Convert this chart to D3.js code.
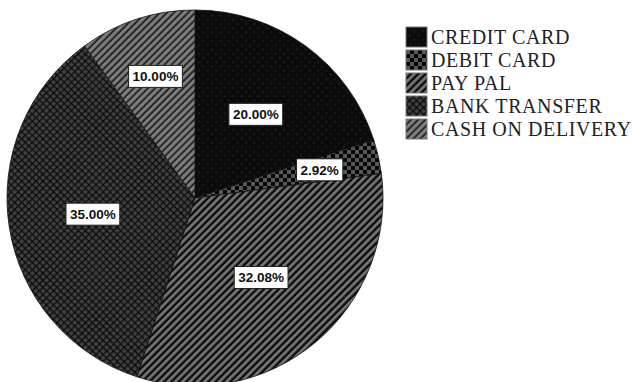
<!DOCTYPE html>
<html>
<head>
<meta charset="utf-8">
<script src="https://cdn.jsdelivr.net/npm/d3@7/dist/d3.min.js"></script>
<style>
  html, body { margin: 0; padding: 0; background: #fff; }
  svg { display: block; }
</style>
</head>
<body>
<svg id="chart" width="632" height="382"></svg>
<script>
// Payment method shares (percent)
const categories = ["CREDIT CARD", "DEBIT CARD", "PAY PAL", "BANK TRANSFER", "CASH ON DELIVERY"];
const shares = [20.00, 2.92, 32.08, 35.00, 10.00];
const patternIds = ["pCredit", "pDebit", "pPaypal", "pBank", "pCash"];

const svg = d3.select("#chart");
const cx = 195, cy = 198, R = 188;

// ---- fill patterns ----
const defs = svg.append("defs");

// credit card: near-black with a faint dotted lattice
{
  const p = defs.append("pattern").attr("id", "pCredit").attr("patternUnits", "userSpaceOnUse")
    .attr("width", 6).attr("height", 6).attr("patternTransform", "rotate(45)");
  p.append("rect").attr("width", 6).attr("height", 6).attr("fill", "#0b0b0b");
  p.append("rect").attr("x", 2).attr("y", 2).attr("width", 2).attr("height", 2).attr("fill", "#1c1c1c");
}
// debit card: checkerboard
{
  const p = defs.append("pattern").attr("id", "pDebit").attr("patternUnits", "userSpaceOnUse")
    .attr("width", 8).attr("height", 8);
  p.append("rect").attr("width", 8).attr("height", 8).attr("fill", "#050505");
  p.append("rect").attr("x", 0).attr("y", 0).attr("width", 4).attr("height", 4).attr("fill", "#585858");
  p.append("rect").attr("x", 4).attr("y", 4).attr("width", 4).attr("height", 4).attr("fill", "#585858");
}
// pay pal: bold diagonal stripes
{
  const p = defs.append("pattern").attr("id", "pPaypal").attr("patternUnits", "userSpaceOnUse")
    .attr("width", 5.2).attr("height", 10).attr("patternTransform", "rotate(45)");
  p.append("rect").attr("width", 5.2).attr("height", 10).attr("fill", "#0a0a0a");
  p.append("rect").attr("x", 0).attr("width", 2.9).attr("height", 10).attr("fill", "#727272");
}
// bank transfer: dark crosshatch
{
  const p = defs.append("pattern").attr("id", "pBank").attr("patternUnits", "userSpaceOnUse")
    .attr("width", 5).attr("height", 5).attr("patternTransform", "rotate(45)");
  p.append("rect").attr("width", 5).attr("height", 5).attr("fill", "#414141");
  p.append("rect").attr("width", 5).attr("height", 1.3).attr("fill", "#0c0c0c");
  p.append("rect").attr("width", 1.3).attr("height", 5).attr("fill", "#0c0c0c");
}
// cash on delivery: lighter diagonal stripes
{
  const p = defs.append("pattern").attr("id", "pCash").attr("patternUnits", "userSpaceOnUse")
    .attr("width", 5).attr("height", 10).attr("patternTransform", "rotate(45)");
  p.append("rect").attr("width", 5).attr("height", 10).attr("fill", "#1a1a1a");
  p.append("rect").attr("x", 0).attr("width", 3.3).attr("height", 10).attr("fill", "#7c7c7c");
}

// ---- pie ----
const pie = d3.pie().sort(null).value(d => d.v);
const data = categories.map((c, i) => ({ c, v: shares[i], id: patternIds[i] }));
const arcs = pie(data);
const arc = d3.arc().innerRadius(0).outerRadius(R);

const g = svg.append("g").attr("transform", `translate(${cx},${cy})`);
g.selectAll("path.slice").data(arcs).join("path")
  .attr("class", "slice")
  .attr("d", arc)
  .attr("fill", d => `url(#${d.data.id})`)
  .attr("stroke", "#111")
  .attr("stroke-width", 0.8);

// ---- value labels (small slices pushed further out) ----
const fmt = d3.format(".2f");
arcs.forEach(d => {
  const frac = d.data.v <= 10 ? 0.68 : 0.55;
  const la = d3.arc().innerRadius(R * frac).outerRadius(R * frac);
  const [x, y] = la.centroid(d);
  const lg = g.append("g").attr("transform", `translate(${x},${y})`);
  const t = lg.append("text")
    .attr("text-anchor", "middle").attr("dy", "0.36em")
    .attr("font-family", "'Liberation Sans', Arial, sans-serif")
    .attr("font-weight", "bold").attr("font-size", 13.5)
    .attr("fill", "#111")
    .text(fmt(d.data.v) + "%");
  const bb = t.node().getBBox();
  lg.insert("rect", "text")
    .attr("x", bb.x - 4).attr("y", -11)
    .attr("width", bb.width + 8).attr("height", 22)
    .attr("fill", "#fff").attr("stroke", "#222").attr("stroke-width", 1);
});

// ---- legend ----
const lgd = svg.append("g").attr("transform", "translate(406,27)");
const rows = lgd.selectAll("g").data(data).join("g")
  .attr("transform", (d, i) => `translate(0,${i * 23})`);
rows.append("rect")
  .attr("width", 21).attr("height", 20)
  .attr("fill", d => `url(#${d.id})`)
  .attr("stroke", "#777").attr("stroke-width", 1);
rows.append("text")
  .attr("x", 25).attr("y", 10).attr("dy", "0.36em")
  .attr("font-family", "'Liberation Serif', 'Times New Roman', serif")
  .attr("font-size", 20)
  .attr("letter-spacing", 0.6)
  .attr("fill", "#222")
  .text(d => d.c);
</script>
</body>
</html>
